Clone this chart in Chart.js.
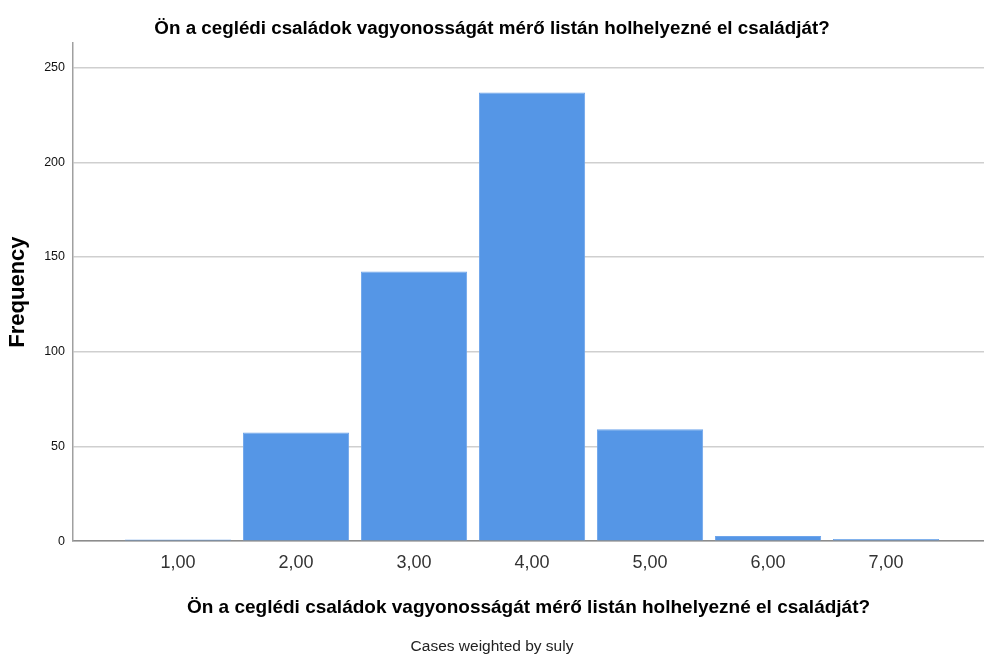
<!DOCTYPE html>
<html>
<head>
<meta charset="utf-8">
<script src="https://cdn.jsdelivr.net/npm/chart.js@4"></script>
<style>
  html, body { margin: 0; padding: 0; background: #fff; }
  #wrap { width: 984px; height: 657px; }
</style>
</head>
<body>
<div id="wrap"><canvas id="chart" width="984" height="657"></canvas></div>
<script>
const categories = [1, 2, 3, 4, 5, 6, 7];
const frequencies = [0.9, 57.4, 142.3, 236.8, 59.1, 2.7, 1.1];
const yTicks = [0, 50, 100, 150, 200, 250];

const titleText = "Ön a ceglédi családok vagyonosságát mérő listán holhelyezné el családját?";
const footText = "Cases weighted by suly";
const font = "'Liberation Sans', Arial, sans-serif";

const ctx = document.getElementById("chart");

new Chart(ctx, {
  type: "bar",
  data: {
    datasets: [{
      label: "Frequency",
      data: categories.map((c, i) => ({ x: c, y: frequencies[i] })),
      backgroundColor: "#5596e6",
      borderColor: "#6ea5eb",
      borderWidth: 1,
      borderSkipped: "bottom",
      barPercentage: 0.9,
      categoryPercentage: 1.0,
    }],
  },
  options: {
    responsive: false,
    animation: false,
    layout: { padding: 0 },
    plugins: {
      legend: { display: false },
      tooltip: { enabled: false },
      title: {
        display: true,
        text: titleText,
        color: "#000",
        font: { family: font, size: 18.8, weight: "bold", lineHeight: 1.2 },
        padding: { top: 18, bottom: 2.4 },
      },
      subtitle: {
        display: true,
        position: "bottom",
        text: footText,
        color: "#222",
        font: { family: font, size: 15.5, lineHeight: 1.2 },
        padding: { top: 7.9, bottom: 0.7 },
      },
    },
    scales: {
      x: {
        type: "linear",
        offset: false,
        min: 0.11,
        max: 7.83,
        afterBuildTicks: (s) => { s.ticks = categories.map((v) => ({ value: v })); },
        afterFit: (s) => { s.height = 88.6; },
        grid: { display: false, drawTicks: false },
        border: { display: true, color: "#8c8c8c", width: 1.5 },
        ticks: {
          color: "#333",
          padding: 11,
          maxRotation: 0,
          font: { family: font, size: 18 },
          callback: (v) => v.toFixed(2).replace(".", ","),
        },
        title: {
          display: true,
          text: titleText,
          color: "#000",
          font: { family: font, size: 19, weight: "bold", lineHeight: 1.2 },
          padding: { top: 0, bottom: 11 },
        },
      },
      y: {
        min: 0,
        max: 263,
        afterBuildTicks: (s) => { s.ticks = yTicks.map((v) => ({ value: v })); },
        afterFit: (s) => { s.width = 73; },
        grid: { color: "#cfcfcf", lineWidth: 1.5, drawTicks: false },
        border: { display: true, color: "#a0a0a0", width: 1.5 },
        ticks: {
          color: "#111",
          padding: 8,
          font: { family: font, size: 12.5 },
        },
        title: {
          display: true,
          text: "Frequency",
          color: "#000",
          font: { family: font, size: 22, weight: "bold", lineHeight: 1.2 },
          padding: { top: 5, bottom: 0 },
        },
      },
    },
  },
});
</script>
</body>
</html>
